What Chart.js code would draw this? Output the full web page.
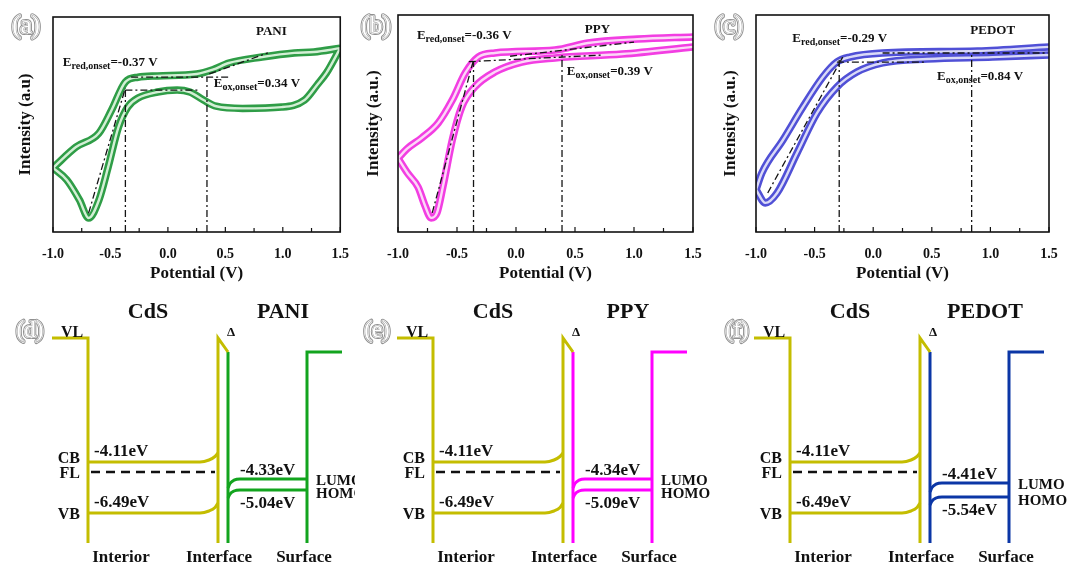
<!DOCTYPE html>
<html>
<head>
<meta charset="utf-8">
<script src="https://cdn.jsdelivr.net/npm/chart.js@4.4.1/dist/chart.umd.min.js"></script>
<style>
  html, body { margin: 0; padding: 0; background: #fff; }
  body { width: 1072px; height: 565px; position: relative; overflow: hidden; }
  .panel { position: absolute; }
</style>
</head>
<body>
<div class="panel" style="left:0;top:0;width:355px;height:290px"><canvas id="cv-a"></canvas></div>
<div class="panel" style="left:355px;top:0;width:355px;height:290px"><canvas id="cv-b"></canvas></div>
<div class="panel" style="left:710px;top:0;width:362px;height:290px"><canvas id="cv-c"></canvas></div>
<div class="panel" style="left:0;top:290px;width:355px;height:275px"><canvas id="cv-d"></canvas></div>
<div class="panel" style="left:355px;top:290px;width:355px;height:275px"><canvas id="cv-e"></canvas></div>
<div class="panel" style="left:710px;top:290px;width:362px;height:275px"><canvas id="cv-f"></canvas></div>
<script>
'use strict';

const SERIF = '"Liberation Serif", "Times New Roman", serif';

// ---- CV data (potential in V, intensity in arbitrary units 0..100) ----
const potentialTicks = [-1.0, -0.5, 0.0, 0.5, 1.0, 1.5];
const potentialMinor = [-0.75, -0.25, 0.25, 0.75, 1.25];

// (a) PANI
const paniUpperV = [-1.00, -0.80, -0.60, -0.49, -0.37, -0.26, -0.09, 0.25, 0.39, 0.53, 0.82, 1.10, 1.27, 1.50];
const paniUpperI = [29.8, 39.5, 46.0, 56.7, 69.8, 72.0, 72.6, 73.5, 75.5, 78.6, 81.4, 83.3, 83.7, 85.5];
const paniLowerV = [-1.00, -0.88, -0.77, -0.69, -0.60, -0.52, -0.43, -0.35, -0.26, -0.09, 0.08, 0.19, 0.31, 0.42, 0.65, 0.99, 1.19, 1.30, 1.38, 1.50];
const paniLowerI = [29.8, 24.2, 14.9, 6.5, 14.9, 30.2, 48.8, 58.1, 62.3, 65.1, 66.0, 65.1, 61.4, 58.5, 57.5, 58.1, 61.4, 68.5, 74.0, 85.5];
const paniOnset = [-0.37, 0.34];

// (b) PPY
const ppyUpperV = [-1.00, -0.92, -0.80, -0.66, -0.54, -0.43, -0.32, -0.18, 0.33, 0.61, 1.03, 1.50];
const ppyUpperI = [34.0, 38.5, 43.3, 50.2, 60.8, 73.3, 80.6, 82.5, 83.9, 87.1, 88.9, 89.9];
const ppyLowerV = [-1.00, -0.92, -0.83, -0.77, -0.72, -0.67, -0.62, -0.54, -0.46, -0.35, -0.18, 0.05, 0.33, 0.90, 1.50];
const ppyLowerI = [34.0, 27.2, 20.7, 12.0, 6.5, 8.8, 20.7, 42.4, 57.6, 66.8, 73.7, 78.3, 80.2, 82.0, 85.3];
const ppyOnset = [-0.36, 0.39];

// (c) PEDOT
const pedotUpperV = [-1.00, -0.95, -0.77, -0.60, -0.43, -0.31, -0.20, 0.08, 0.89, 1.50];
const pedotUpperI = [19.5, 27.2, 42.4, 57.6, 71.4, 78.3, 80.6, 82.5, 83.4, 85.3];
const pedotLowerV = [-1.00, -0.92, -0.82, -0.65, -0.48, -0.31, -0.14, 0.08, 0.46, 1.02, 1.50];
const pedotLowerI = [19.5, 13.4, 18.0, 36.4, 54.8, 66.8, 73.7, 77.9, 79.7, 80.6, 81.6];
const pedotOnset = [-0.29, 0.84];

// ---- band diagram data (schematic units) ----
const polymers = ['PANI', 'PPY', 'PEDOT'];
const polymerColors = ['#12a41e', '#ff00ff', '#0b36a6'];
const cdsLabels = ['-4.11eV', '-6.49eV'];
const lumoLabels = ['-4.33eV', '-4.34eV', '-4.41eV'];
const homoLabels = ['-5.04eV', '-5.09eV', '-5.54eV'];
const lumoLevel = [86, 86, 82];
const homoLevel = [75, 75, 68];
const levelVL = 227, levelPolyTop = 213, levelCB = 103, levelFL = 93, levelVB = 52, levelBase = 22;
const posVL = -36, posInterior = 0, posBend = 112, posInterface = 130, posPolymer = 140, posSurface = 219, posEnd = 254;
const regionLabels = ['Interior', 'Interface', 'Surface'];

const CDS_COLOR = '#c4bd00';

function zip(xs, ys) { return xs.map((x, i) => ({ x, y: ys[i] })); }
function pts(list) { return list.map(([x, y]) => ({ x, y })); }

function drawRuns(ctx, x, y, runs, align) {
  let total = 0;
  runs.forEach(([t, size]) => { ctx.font = `bold ${size}px ${SERIF}`; total += ctx.measureText(t).width; });
  let cx = align === 'center' ? x - total / 2 : align === 'right' ? x - total : x;
  ctx.textAlign = 'left';
  ctx.textBaseline = 'alphabetic';
  runs.forEach(([t, size, dy]) => {
    ctx.font = `bold ${size}px ${SERIF}`;
    ctx.fillText(t, cx, y + (dy || 0));
    cx += ctx.measureText(t).width;
  });
}

// hollow, double-outlined panel letter like the scanned figure
function drawPanelLetter(ctx, text, x, y, size) {
  ctx.save();
  ctx.font = `${size}px ${SERIF}`;
  ctx.textAlign = 'center';
  ctx.textBaseline = 'alphabetic';
  ctx.lineJoin = 'round';
  ctx.strokeStyle = '#909090'; ctx.lineWidth = 4.2; ctx.strokeText(text, x, y);
  ctx.strokeStyle = '#fff'; ctx.lineWidth = 2.2; ctx.strokeText(text, x, y);
  ctx.strokeStyle = '#8a8a8a'; ctx.lineWidth = 0.9; ctx.strokeText(text, x, y);
  ctx.fillStyle = '#fff'; ctx.fillText(text, x, y);
  ctx.restore();
}

function cvChart(id, o) {
  const guideStyle = { borderColor: '#151515', borderWidth: 1.3, borderDash: [7, 3, 2, 3], order: 0, cubicInterpolationMode: 'default', tension: 0 };
  const datasets = [];
  o.guides.forEach(g => datasets.push(Object.assign({ data: pts(g) }, guideStyle)));
  o.branches.forEach(([xs, ys]) => {
    datasets.push({ data: zip(xs, ys), borderColor: o.inner, borderWidth: 2.4, order: 1 });
    datasets.push({ data: zip(xs, ys), borderColor: o.color, borderWidth: 7.5, order: 2 });
  });

  const overlay = {
    id: 'overlay',
    afterDraw(chart) {
      const { ctx, chartArea: a, scales: { x, y } } = chart;
      ctx.save();
      ctx.strokeStyle = '#111';
      ctx.lineWidth = 1.6;
      ctx.strokeRect(a.left, a.top, a.right - a.left, a.bottom - a.top);
      ctx.lineWidth = 1.2;
      potentialTicks.concat(potentialMinor).forEach(v => {
        const px = x.getPixelForValue(v);
        const len = potentialTicks.includes(v) ? 5 : 4;
        ctx.beginPath(); ctx.moveTo(px, a.bottom); ctx.lineTo(px, a.bottom - len); ctx.stroke();
      });
      ctx.fillStyle = '#111';
      o.notes.forEach(n => drawRuns(ctx, x.getPixelForValue(n.v), y.getPixelForValue(n.i), n.runs, n.align));
      drawPanelLetter(ctx, o.letter, o.letterX, 33, 25);
      ctx.restore();
    }
  };

  return new Chart(document.getElementById(id), {
    type: 'scatter',
    data: { datasets },
    options: {
      responsive: true,
      maintainAspectRatio: false,
      animation: false,
      events: [],
      layout: { padding: { top: o.top, right: o.right, left: 0, bottom: 0 } },
      elements: { point: { radius: 0 }, line: { fill: false } },
      datasets: { scatter: { showLine: true, cubicInterpolationMode: 'monotone', pointRadius: 0 } },
      plugins: { legend: { display: false }, tooltip: { enabled: false } },
      scales: {
        x: {
          type: 'linear', min: -1, max: 1.5,
          afterFit: s => { s.height = 58; },
          afterBuildTicks: s => { s.ticks = potentialTicks.map(v => ({ value: v })); },
          grid: { display: false }, border: { display: false },
          ticks: { color: '#111', autoSkip: false, maxRotation: 0, padding: 6,
                   font: { family: SERIF, size: 14, weight: 'bold' }, callback: v => Number(v).toFixed(1) },
          title: { display: true, text: 'Potential (V)', color: '#111',
                   font: { family: SERIF, size: 17, weight: 'bold' }, padding: { top: 0, bottom: 6 } }
        },
        y: {
          type: 'linear', min: 0, max: 100,
          afterFit: s => { s.width = o.axisW; },
          grid: { display: false }, border: { display: false },
          ticks: { display: false },
          title: { display: true, text: o.yTitle, color: '#111',
                   font: { family: SERIF, size: 17, weight: 'bold' }, padding: { top: o.yPad, bottom: 0 } }
        }
      }
    },
    plugins: [overlay]
  });
}

const redRuns = v => [['E', 13, 0], ['red,onset', 10, 3], ['=' + v + ' V', 13, 0]];
const oxRuns = v => [['E', 13, 0], ['ox,onset', 10, 3], ['=' + v + ' V', 13, 0]];

cvChart('cv-a', {
  top: 17, right: 8, axisW: 53, yPad: 15, yTitle: 'Intensity (a.u)', letter: '(a)', letterX: 26,
  color: '#2f9d47', inner: '#d3efd5',
  branches: [[paniUpperV, paniUpperI], [paniLowerV, paniLowerI]],
  guides: [
    [[paniOnset[0], 0], [paniOnset[0], 67]],
    [[paniOnset[1], 0], [paniOnset[1], 72]],
    [[-0.69, 8.8], [paniOnset[0], 67]],
    [[paniOnset[0], 66], [0.28, 66]],
    [[-0.32, 72], [0.53, 72]],
    [[0.36, 73.5], [0.87, 83.3]]
  ],
  notes: [
    { v: -0.915, i: 77, runs: redRuns('-0.37') },
    { v: 0.40, i: 67.5, runs: oxRuns('0.34') },
    { v: 0.90, i: 91.5, runs: [['PANI', 13, 0]], align: 'center' }
  ]
});

cvChart('cv-b', {
  top: 15, right: 17, axisW: 43, yPad: 8, yTitle: 'Intensity (a.u.)', letter: '(b)', letterX: 21,
  color: '#f23ee2', inner: '#fcd8f7',
  branches: [[ppyUpperV, ppyUpperI], [ppyLowerV, ppyLowerI]],
  guides: [
    [[ppyOnset[0], 0], [ppyOnset[0], 78.3]],
    [[ppyOnset[1], 0], [ppyOnset[1], 82.5]],
    [[-0.71, 8.8], [ppyOnset[0], 79.3]],
    [[-0.40, 78.5], [0.72, 81.5]],
    [[-0.05, 81], [1.00, 87.5]]
  ],
  notes: [
    { v: -0.84, i: 89, runs: redRuns('-0.36') },
    { v: 0.43, i: 72.4, runs: oxRuns('0.39') },
    { v: 0.69, i: 91.7, runs: [['PPY', 13, 0]], align: 'center' }
  ]
});

cvChart('cv-c', {
  top: 15, right: 23, axisW: 46, yPad: 10, yTitle: 'Intensity (a.u.)', letter: '(c)', letterX: 19,
  color: '#5050d6', inner: '#dadaf7',
  branches: [[pedotUpperV, pedotUpperI], [pedotLowerV, pedotLowerI]],
  guides: [
    [[pedotOnset[0], 0], [pedotOnset[0], 80.2]],
    [[pedotOnset[1], 0], [pedotOnset[1], 82.5]],
    [[-0.90, 18], [-0.26, 80.6]],
    [[-0.31, 78.3], [0.44, 78.3]],
    [[0.08, 82.5], [1.49, 82.5]]
  ],
  notes: [
    { v: -0.69, i: 87.6, runs: redRuns('-0.29') },
    { v: 0.545, i: 70, runs: oxRuns('0.84') },
    { v: 1.02, i: 91.2, runs: [['PEDOT', 13, 0]], align: 'center' }
  ]
});

// ---- band diagrams ----
function bandChart(id, k, o) {
  const color = polymerColors[k];
  const L = lumoLevel[k], H = homoLevel[k];
  const line = (list, c, extra) => Object.assign({ data: pts(list), borderColor: c, borderWidth: 3, tension: 0 }, extra || {});
  const curve = { cubicInterpolationMode: 'monotone' };
  const datasets = [
    line([[posVL, levelVL], [posInterior, levelVL], [posInterior, levelBase]], CDS_COLOR),
    line([[posInterface, levelBase], [posInterface, levelVL], [posPolymer, levelPolyTop]], CDS_COLOR),
    line([[posInterior, levelCB], [posBend, levelCB], [121, levelCB + 2], [127, levelCB + 5.5], [posInterface, levelCB + 9]], CDS_COLOR, curve),
    line([[posInterior, levelVB], [posBend, levelVB], [121, levelVB + 2], [127, levelVB + 5.5], [posInterface, levelVB + 10]], CDS_COLOR, curve),
    line([[3, levelFL], [127, levelFL]], '#111', { borderDash: [9, 6], borderWidth: 2.5 }),
    line([[posPolymer, levelPolyTop], [posPolymer, levelBase]], color),
    line([[posSurface, levelBase], [posSurface, levelPolyTop], [posEnd, levelPolyTop]], color),
    line([[posPolymer, L - 9], [142, L - 4.5], [146, L - 1.2], [152, L], [posSurface, L]], color, curve),
    line([[posPolymer, H - 8], [142, H - 4], [146, H - 1], [152, H], [posSurface, H]], color, curve)
  ];

  const texts = {
    id: 'texts',
    afterDraw(chart) {
      const { ctx, scales: { x, y } } = chart;
      const T = (t, px, py, size, align) => drawRuns(ctx, x.getPixelForValue(px), y.getPixelForValue(py), [[t, size, 0]], align);
      ctx.save();
      ctx.fillStyle = '#111';
      T('CdS', 60, 247, 22, 'center');
      T(polymers[k], 195, 247, 22, 'center');
      T('VL', -27, 228, 16, 'left');
      T('\u0394', 139, 229, 13, 'left');
      T('CB', -8, 102, 16, 'right');
      T('FL', -8, 87, 16, 'right');
      T('VB', -8, 46, 16, 'right');
      T(cdsLabels[0], 6, 109, 17, 'left');
      T(cdsLabels[1], 6, 58, 17, 'left');
      T(lumoLabels[k], 152, L + 4, 17, 'left');
      T(homoLabels[k], 152, H - 18, 17, 'left');
      T('LUMO', 228, L - 6, 15, 'left');
      T('HOMO', 228, H - 8, 15, 'left');
      T(regionLabels[0], 33, 3, 17, 'center');
      T(regionLabels[1], 131, 3, 17, 'center');
      T(regionLabels[2], 216, 3, 17, 'center');
      drawPanelLetter(ctx, o.letter, x.getPixelForValue(o.letterX), y.getPixelForValue(228), 23);
      ctx.restore();
    }
  };

  return new Chart(document.getElementById(id), {
    type: 'scatter',
    data: { datasets },
    options: {
      responsive: true,
      maintainAspectRatio: false,
      animation: false,
      events: [],
      layout: { padding: 0 },
      datasets: { scatter: { showLine: true, pointRadius: 0 } },
      plugins: { legend: { display: false }, tooltip: { enabled: false } },
      scales: {
        x: { type: 'linear', display: false, min: o.xMin, max: o.xMax },
        y: { type: 'linear', display: false, min: 0, max: 275 }
      }
    },
    plugins: [texts]
  });
}

bandChart('cv-d', 0, { xMin: -88, xMax: 267, letter: '(d)', letterX: -58 });
bandChart('cv-e', 1, { xMin: -78, xMax: 277, letter: '(e)', letterX: -56 });
bandChart('cv-f', 2, { xMin: -80, xMax: 282, letter: '(f)', letterX: -53 });
</script>
</body>
</html>
